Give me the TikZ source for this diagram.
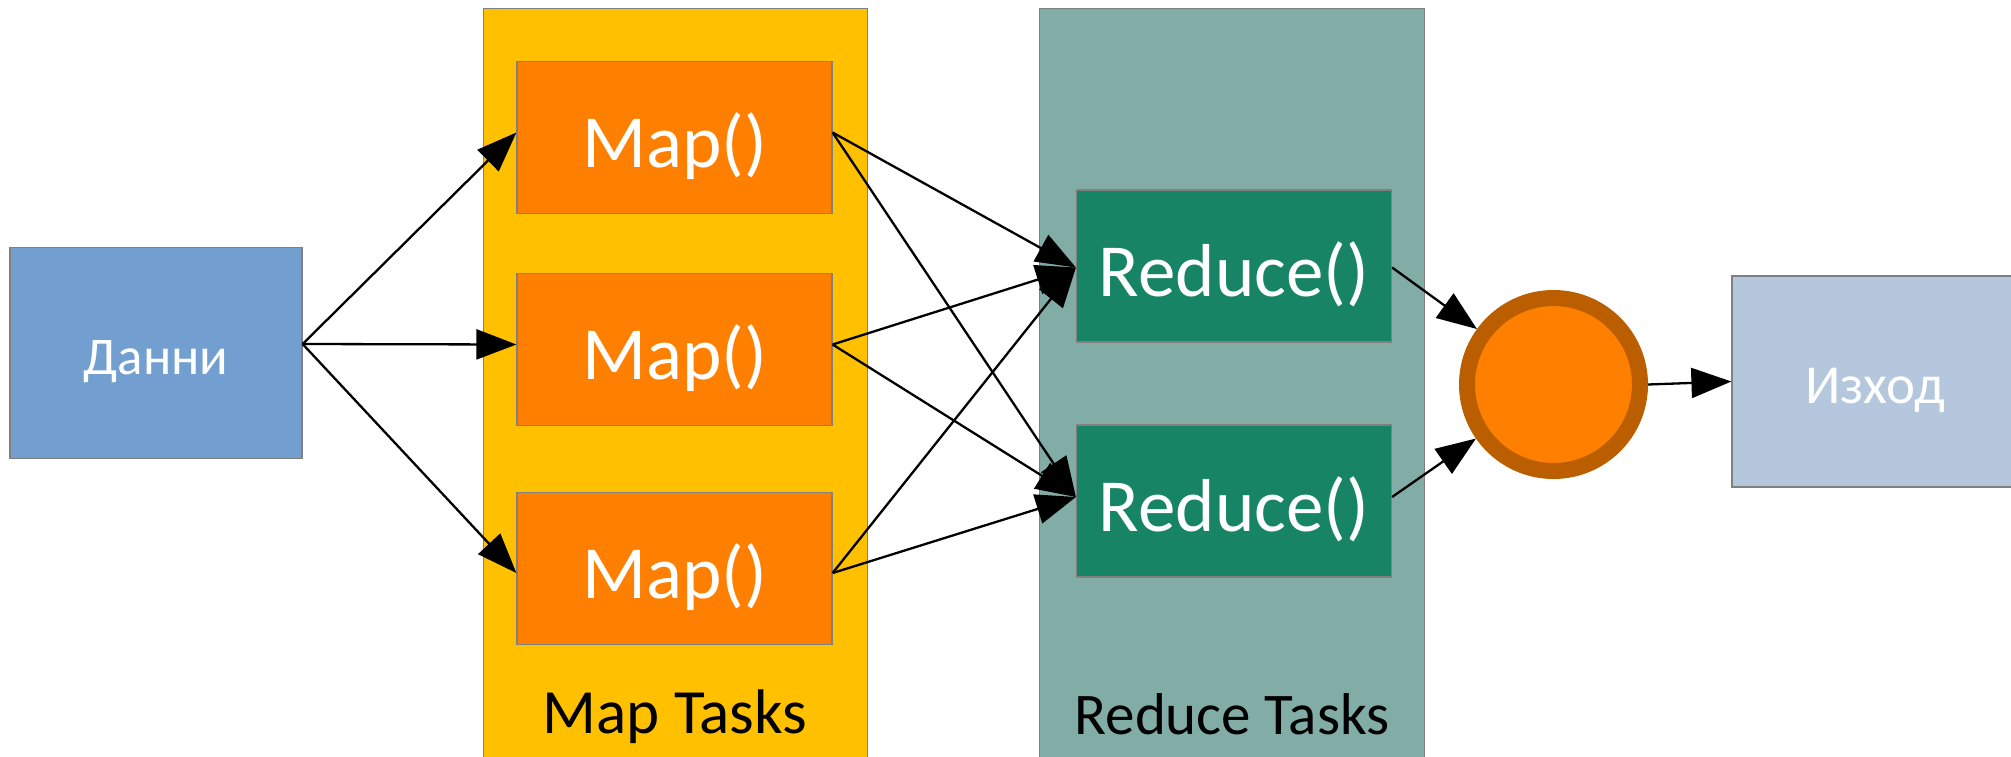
\documentclass[tikz,border=0pt]{standalone}
\usepackage{fontspec}
\setmainfont{Carlito}
\usetikzlibrary{arrows.meta}

\definecolor{databox}{RGB}{114,159,207}
\definecolor{mapcolumn}{RGB}{255,192,0}
\definecolor{mapfill}{RGB}{255,128,0}
\definecolor{redcolumn}{RGB}{130,173,167}
\definecolor{redfill}{RGB}{23,132,102}
\definecolor{ringcol}{RGB}{187,94,0}
\definecolor{outbox}{RGB}{180,199,220}
\definecolor{edgegray}{RGB}{128,128,128}

\tikzset{
  column/.style={draw=edgegray, line width=1.2pt, anchor=north west, inner sep=0pt},
  taskbox/.style={draw=edgegray, line width=1.2pt, inner sep=0pt, text=white,
    minimum width=315pt, minimum height=152pt, font=\fontsize{75}{90}\selectfont,
    text height=60pt, text depth=0pt},
  iobox/.style={draw=edgegray, line width=1.2pt, inner sep=0pt, text=white,
    text height=43pt, text depth=0pt},
  caption/.style={text=black, inner sep=0pt},
  flow/.style={draw=black, line width=2.3pt, -{Triangle[length=40pt,width=30pt]}}
}

\begin{document}
\begin{tikzpicture}[x=1pt,y=-1pt]
\useasboundingbox (0,0) rectangle (2011,756);

% task columns
\node[column, fill=mapcolumn, minimum width=384pt, minimum height=770pt] (mapcol) at (483,8) {};
\node[column, fill=redcolumn, minimum width=385pt, minimum height=770pt] (redcol) at (1039,8) {};
\node[caption, font=\fontsize{63}{74}\selectfont, anchor=base] (maplbl) at (675,733) {Map Tasks};
\node[caption, font=\fontsize{59}{70}\selectfont, anchor=base] (redlbl) at (1232,734) {Reduce Tasks};

% input and output
\node[iobox, fill=databox, minimum width=292pt, minimum height=211pt,
      font=\fontsize{53}{64}\selectfont] (data) at (156,353) {Данни};
\node[iobox, fill=outbox, minimum width=286pt, minimum height=211pt,
      font=\fontsize{55}{66}\selectfont, text height=44pt] (out) at (1875,381.5) {Изход};

% map tasks
\node[taskbox, fill=mapfill] (m1) at (674.5,137.5) {Map()};
\node[taskbox, fill=mapfill] (m2) at (674.5,349.5) {Map()};
\node[taskbox, fill=mapfill] (m3) at (674.5,568.5) {Map()};

% reduce tasks
\node[taskbox, fill=redfill] (r1) at (1234,266) {Reduce()};
\node[taskbox, fill=redfill] (r2) at (1234,501) {Reduce()};

% combining stage
\node[circle, draw=ringcol, line width=16pt, fill=mapfill, minimum size=173pt, inner sep=0pt] (join) at (1553.5,384.5) {};

% connection ports on the box sides
\coordinate (src) at ([yshift=9pt]data.east);
\coordinate (m1in)  at ([yshift=5pt]m1.west);
\coordinate (m2in)  at ([yshift=5pt]m2.west);
\coordinate (m3in)  at ([yshift=-4.5pt]m3.west);
\coordinate (m1out) at ([yshift=5pt]m1.east);
\coordinate (m2out) at ([yshift=5pt]m2.east);
\coordinate (m3out) at ([yshift=-4.5pt]m3.east);
\coordinate (r1in)  at ([yshift=-1.5pt]r1.west);
\coordinate (r2in)  at ([yshift=4pt]r2.west);
\coordinate (r1out) at ([yshift=-1.5pt]r1.east);
\coordinate (r2out) at ([yshift=4pt]r2.east);

% data flow
\draw[flow] (src) -- (m1in);
\draw[flow] (src) -- (m2in);
\draw[flow] (src) -- (m3in);
\foreach \m in {m1out,m2out,m3out}{
  \draw[flow] (\m) -- (r1in);
  \draw[flow] (\m) -- (r2in);
}
\draw[flow] (r1out) -- (join);
\draw[flow] (r2out) -- (join);
\draw[flow] (join.east) -- (out.west);
\end{tikzpicture}
\end{document}
